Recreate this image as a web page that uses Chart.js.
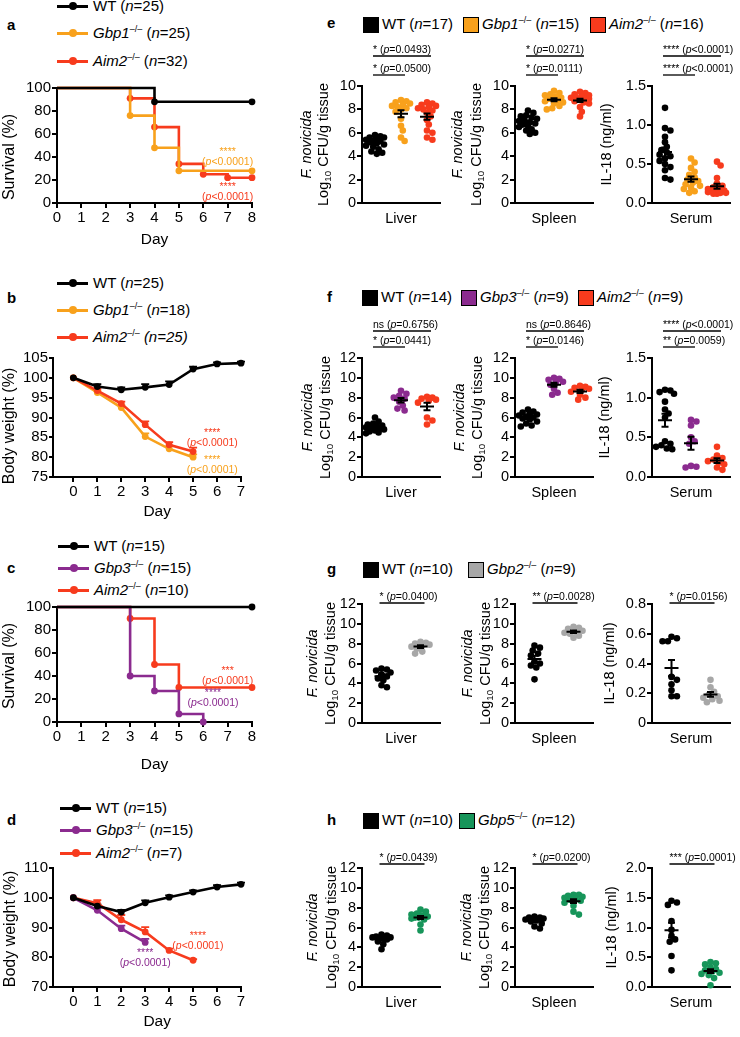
<!DOCTYPE html>
<html>
<head>
<meta charset="utf-8">
<script src="https://cdn.jsdelivr.net/npm/chart.js@4.4.1/dist/chart.umd.min.js"></script>
<style>
  html, body { margin: 0; padding: 0; background: #fff; }
  body { position: relative; width: 740px; height: 1037px; overflow: hidden;
         font-family: "Liberation Sans", Arial, sans-serif; color: #000; }
  canvas { position: absolute; display: block; }
  .panel { position: absolute; font-weight: bold; font-size: 15px; line-height: 15px; }
  .leg { position: absolute; font-size: 15px; line-height: 18px; white-space: nowrap; }
  .leg sup { font-size: 9px; vertical-align: 6px; line-height: 0; }
  .swatch { position: absolute; height: 3px; width: 31px; }
  .dot { position: absolute; width: 8px; height: 8px; border-radius: 50%; }
  .sq { position: absolute; width: 14px; height: 14px; border: 1px solid #000; }
</style>
</head>
<body>
<script>
const FONT = '"Liberation Sans", Arial, sans-serif';
Chart.defaults.font.family = FONT;
Chart.defaults.color = '#000';

const COL = { WT: '#000000', Gbp1: '#F8A11C', Aim2: '#F73B1D', Gbp3: '#8B2B8F', Gbp2: '#A7A7A7', Gbp5: '#17955A' };

// ---------- a: survival, WT / Gbp1 / Aim2
const survTicks = [0, 20, 40, 60, 80, 100];
const survDayTicks = [0, 1, 2, 3, 4, 5, 6, 7, 8];
const aWTDays = [0, 4, 8];                 const aWTSurv = [100, 88, 88];
const aGbp1Days = [0, 3, 4, 5, 8];         const aGbp1Surv = [100, 76, 48, 28, 28];
const aAim2Days = [0, 3, 4, 5, 6, 7, 8];   const aAim2Surv = [100, 91, 66, 34, 25, 22, 22];

// ---------- b: body weight, WT / Gbp1 / Aim2
const weightDays = [0, 1, 2, 3, 4, 5, 6, 7];
const koDays = [0, 1, 2, 3, 4, 5];
const bWeightTicks = [75, 80, 85, 90, 95, 100, 105];
const bWT = [100, 97.8, 97.0, 97.6, 98.3, 102.2, 103.5, 103.7];
const bWTsem = [0, 0.6, 0.6, 0.8, 0.8, 0.6, 0.4, 0.4];
const bGbp1 = [100, 96.3, 92.5, 85.2, 82.1, 80.0];
const bGbp1sem = [0, 0.4, 0.6, 0.8, 0.6, 0.7];
const bAim2 = [100, 96.8, 93.5, 88.2, 83.1, 81.4];
const bAim2sem = [0, 0.4, 0.5, 0.8, 0.7, 1.0];

// ---------- c: survival, WT / Gbp3 / Aim2
const cWTDays = [0, 8];                    const cWTSurv = [100, 100];
const cGbp3Days = [0, 3, 4, 5, 6];         const cGbp3Surv = [100, 40, 27, 7, 0];
const cAim2Days = [0, 3, 4, 5, 8];         const cAim2Surv = [100, 90, 50, 30, 30];

// ---------- d: body weight, WT / Gbp3 / Aim2
const dWeightTicks = [70, 80, 90, 100, 110];
const gbp3Days = [0, 1, 2, 3];
const dWT = [100, 97.2, 95.2, 98.3, 100.2, 101.9, 103.6, 104.5];
const dWTsem = [0, 0.6, 0.7, 0.8, 0.6, 0.6, 0.6, 0.6];
const dGbp3 = [100, 95.8, 89.6, 85.0];
const dGbp3sem = [0, 0.6, 1.0, 1.2];
const dAim2 = [100, 98.2, 92.6, 88.5, 82.3, 79.0];
const dAim2sem = [0, 1.0, 1.6, 1.6, 0.6, 0.4];

// p-value notes on the left panels
const aNotes = [
  { stars: '****', p: '<0.0001', color: COL.Gbp1, x: 7.0, y: 44 },
  { stars: '****', p: '<0.0001', color: COL.Aim2, x: 7.0, y: 14 }
];
const bNotes = [
  { stars: '****', p: '<0.0001', color: COL.Aim2, x: 5.8, y: 86 },
  { stars: '****', p: '<0.0001', color: COL.Gbp1, x: 5.8, y: 79.3 }
];
const cNotes = [
  { stars: '***', p: '<0.0001', color: COL.Aim2, x: 7.0, y: 44 },
  { stars: '****', p: '<0.0001', color: COL.Gbp3, x: 6.4, y: 25.5 }
];
const dNotes = [
  { stars: '****', p: '<0.0001', color: COL.Gbp3, x: 3.0, y: 81.5 },
  { stars: '****', p: '<0.0001', color: COL.Aim2, x: 5.2, y: 87.2 }
];

// ---------- e: WT / Gbp1 / Aim2  (log10 CFU, IL-18 ng/ml)
const eLiverWT   = [5.8, 5.7, 5.6, 5.6, 5.5, 5.4, 5.3, 5.3, 5.2, 5.1, 5.0, 4.9, 4.8, 4.6, 4.4, 4.3, 4.2];
const eLiverGbp1 = [8.8, 8.7, 8.6, 8.5, 8.4, 8.3, 8.2, 8.1, 8.0, 7.8, 7.2, 6.6, 6.2, 5.6, 5.3];
const eLiverAim2 = [8.6, 8.5, 8.4, 8.3, 8.2, 8.1, 8.0, 7.9, 7.7, 7.4, 7.1, 6.7, 6.2, 6.0, 5.6, 5.4];
const eSpleenWT   = [7.9, 7.7, 7.5, 7.4, 7.3, 7.2, 7.1, 7.0, 6.9, 6.8, 6.7, 6.6, 6.5, 6.3, 6.2, 6.0, 5.9];
const eSpleenGbp1 = [9.6, 9.4, 9.3, 9.2, 9.1, 9.0, 8.9, 8.9, 8.8, 8.7, 8.6, 8.5, 8.3, 8.1, 8.0];
const eSpleenAim2 = [9.5, 9.4, 9.3, 9.2, 9.1, 9.0, 9.0, 8.9, 8.9, 8.8, 8.7, 8.6, 8.5, 8.2, 7.8, 7.4];
const eSerumWT   = [1.22, 0.96, 0.93, 0.85, 0.78, 0.72, 0.68, 0.65, 0.62, 0.60, 0.57, 0.54, 0.50, 0.46, 0.42, 0.32, 0.30];
const eSerumGbp1 = [0.57, 0.52, 0.45, 0.40, 0.36, 0.33, 0.30, 0.28, 0.26, 0.24, 0.22, 0.20, 0.18, 0.15, 0.13];
const eSerumAim2 = [0.53, 0.48, 0.32, 0.25, 0.22, 0.20, 0.18, 0.17, 0.16, 0.15, 0.14, 0.14, 0.13, 0.13, 0.12, 0.12];
const eLiverSig  = [['*', '=0.0493'], ['*', '=0.0500']];
const eSpleenSig = [['*', '=0.0271'], ['*', '=0.0111']];
const eSerumSig  = [['****', '<0.0001'], ['****', '<0.0001']];

// ---------- f: WT / Gbp3 / Aim2
const fLiverWT   = [6.0, 5.6, 5.4, 5.3, 5.2, 5.1, 5.0, 5.0, 4.9, 4.8, 4.7, 4.6, 4.5, 4.4];
const fLiverGbp3 = [8.7, 8.4, 8.2, 8.0, 7.9, 7.6, 7.2, 6.9, 6.7];
const fLiverAim2 = [8.1, 8.0, 7.9, 7.8, 7.7, 7.5, 6.0, 5.7, 5.3];
const fSpleenWT   = [6.8, 6.6, 6.5, 6.4, 6.3, 6.2, 6.1, 6.0, 5.9, 5.8, 5.6, 5.4, 5.2, 5.1];
const fSpleenGbp3 = [10.0, 9.9, 9.8, 9.6, 9.5, 9.3, 8.9, 8.5, 8.3];
const fSpleenAim2 = [9.2, 9.1, 9.0, 8.9, 8.8, 8.6, 8.3, 8.0, 7.8];
const fSerumWT   = [1.10, 1.09, 1.07, 1.05, 0.95, 0.85, 0.80, 0.75, 0.45, 0.42, 0.40, 0.38, 0.36, 0.35];
const fSerumGbp3 = [0.72, 0.70, 0.65, 0.50, 0.45, 0.42, 0.14, 0.13, 0.12];
const fSerumAim2 = [0.38, 0.27, 0.24, 0.22, 0.20, 0.18, 0.16, 0.12, 0.09];
const fLiverSig  = [['ns', '=0.6756'], ['*', '=0.0441']];
const fSpleenSig = [['ns', '=0.8646'], ['*', '=0.0146']];
const fSerumSig  = [['****', '<0.0001'], ['**', '=0.0059']];

// ---------- g: WT / Gbp2
const gLiverWT   = [5.5, 5.4, 5.3, 5.1, 4.9, 4.7, 4.5, 4.3, 3.8, 3.6];
const gLiverGbp2 = [8.2, 8.1, 8.0, 7.9, 7.8, 7.7, 7.5, 7.2, 7.0];
const gSpleenWT   = [7.8, 7.6, 7.3, 7.0, 6.8, 6.2, 6.0, 5.8, 5.6, 4.4];
const gSpleenGbp2 = [9.7, 9.6, 9.5, 9.3, 9.2, 9.1, 9.0, 8.8, 8.6];
const gSerumWT   = [0.58, 0.57, 0.55, 0.55, 0.31, 0.29, 0.26, 0.22, 0.18, 0.18];
const gSerumGbp2 = [0.29, 0.24, 0.21, 0.19, 0.18, 0.17, 0.16, 0.15, 0.14];
const gLiverSig  = [['*', '=0.0400']];
const gSpleenSig = [['**', '=0.0028']];
const gSerumSig  = [['*', '=0.0156']];

// ---------- h: WT / Gbp5
const hLiverWT   = [5.3, 5.2, 5.1, 5.0, 5.0, 4.9, 4.8, 4.6, 4.3, 3.8];
const hLiverGbp5 = [7.8, 7.6, 7.4, 7.3, 7.2, 7.1, 7.0, 7.0, 6.9, 6.8, 6.3, 5.7];
const hSpleenWT   = [7.1, 7.0, 7.0, 6.9, 6.8, 6.7, 6.6, 6.4, 6.1, 5.9];
const hSpleenGbp5 = [9.3, 9.3, 9.2, 9.1, 9.0, 8.9, 8.8, 8.7, 8.5, 8.2, 7.6, 7.3];
const hSerumWT   = [1.45, 1.42, 1.38, 1.11, 0.96, 0.86, 0.80, 0.76, 0.52, 0.28];
const hSerumGbp5 = [0.42, 0.40, 0.38, 0.33, 0.30, 0.28, 0.26, 0.24, 0.22, 0.20, 0.15, 0.03];
const hLiverSig  = [['*', '=0.0439']];
const hSpleenSig = [['*', '=0.0200']];
const hSerumSig  = [['***', '=0.0001']];

const cfuTicks10 = [0, 2, 4, 6, 8, 10];
const cfuTicks12 = [0, 2, 4, 6, 8, 10, 12];
const il18Ticks15 = [0, 0.5, 1.0, 1.5];
const il18Ticks08 = [0, 0.2, 0.4, 0.6, 0.8];
const il18Ticks20 = [0, 0.5, 1.0, 1.5, 2.0];

// ---------- text helpers
const N = t => ({ t, s: 'n' });
const I = t => ({ t, s: 'i' });
const SUB = t => ({ t, s: 'sub' });

function runFont(r, size) {
  const sz = r.s === 'sub' ? size * 0.68 : size;
  return (r.s === 'i' ? 'italic ' : '') + sz + 'px ' + FONT;
}
function drawRuns(ctx, runs, x, y, size, align) {
  let w = 0;
  runs.forEach(r => { ctx.font = runFont(r, size); w += ctx.measureText(r.t).width; });
  let cx = align === 'center' ? x - w / 2 : (align === 'right' ? x - w : x);
  ctx.textAlign = 'left';
  runs.forEach(r => {
    ctx.font = runFont(r, size);
    ctx.fillText(r.t, cx, r.s === 'sub' ? y + size * 0.28 : y);
    cx += ctx.measureText(r.t).width;
  });
}

function el(cls, x, y, html) {
  const d = document.createElement('div');
  d.className = cls;
  d.style.left = x + 'px';
  d.style.top = y + 'px';
  if (html) d.innerHTML = html;
  document.body.appendChild(d);
  return d;
}
const geno = (name, n, italN) => (name === 'WT' ? 'WT' : '<i>' + name + '</i><sup>–/–</sup>') +
  (italN ? ' <i>(n=' + n + ')</i>' : ' (<i>n</i>=' + n + ')');

function lineLegend(x, rows) {
  rows.forEach(r => {
    el('swatch', x, r.y - 1.5).style.background = r.color;
    el('dot', x + 11.5, r.y - 4).style.background = r.color;
    el('leg', x + 36, r.y - 9, geno(r.name, r.n, r.italN));
  });
}
function squareLegend(y, items) {
  items.forEach(it => {
    el('sq', it.x, y - 7.5).style.background = it.color;
    el('leg', it.x + 19, y - 9, geno(it.name, it.n));
  });
}

function makeCanvas(box) {
  const cv = document.createElement('canvas');
  cv.width = box.w; cv.height = box.h;
  cv.style.left = box.x + 'px'; cv.style.top = box.y + 'px';
  cv.style.width = box.w + 'px'; cv.style.height = box.h + 'px';
  document.body.appendChild(cv);
  return cv;
}

// ---------- left panels: survival / weight lines
function addLineChart(p) {
  const { box, plot } = p;
  const extras = {
    id: 'lineExtras',
    beforeDatasetsDraw(chart) {
      const { ctx, scales: { x, y } } = chart;
      p.series.forEach(s => {
        if (!s.sem) return;
        ctx.save();
        ctx.strokeStyle = s.color; ctx.lineWidth = 1.8;
        s.x.forEach((d, i) => {
          const e = s.sem[i];
          if (!e) return;
          const px = x.getPixelForValue(d), p0 = y.getPixelForValue(s.y[i]), p1 = y.getPixelForValue(s.y[i] + e);
          ctx.beginPath();
          ctx.moveTo(px, p0); ctx.lineTo(px, p1);
          ctx.moveTo(px - 4, p1); ctx.lineTo(px + 4, p1);
          ctx.stroke();
        });
        ctx.restore();
      });
    },
    afterDraw(chart) {
      const { ctx, scales: { x, y } } = chart;
      ctx.save();
      ctx.textBaseline = 'middle';
      p.notes.forEach(n => {
        const px = x.getPixelForValue(n.x), py = y.getPixelForValue(n.y);
        ctx.fillStyle = n.color;
        drawRuns(ctx, [N(n.stars)], px, py, 10.5, 'center');
        drawRuns(ctx, [N('('), I('p'), N(n.p + ')')], px, py + 10, 10.5, 'center');
      });
      ctx.fillStyle = '#000';
      const dx = (x.getPixelForValue(p.xTicks[0]) + x.getPixelForValue(p.xTicks[p.xTicks.length - 1])) / 2;
      drawRuns(ctx, [N('Day')], dx, p.dayY - box.y, 15.5, 'center');
      ctx.translate(p.titleX - box.x, p.titleY - box.y);
      ctx.rotate(-Math.PI / 2);
      drawRuns(ctx, [N(p.yTitle)], 0, 0, 16, 'center');
      ctx.restore();
    }
  };
  return new Chart(makeCanvas(box), {
    type: 'line',
    data: {
      datasets: p.series.map(s => ({
        data: s.x.map((d, i) => ({ x: d, y: s.y[i] })),
        borderColor: s.color, backgroundColor: s.color,
        pointBackgroundColor: s.color, pointBorderWidth: 0,
        borderWidth: 2.6, fill: false, tension: 0, clip: false,
        pointRadius: s.x.map((d, i) => (p.stepped && i === 0) ? 0 : 3.4),
        stepped: p.stepped ? 'before' : false
      }))
    },
    options: {
      responsive: false, animation: false, events: [],
      layout: { autoPadding: false, padding: { left: 0, bottom: 0, top: plot.t - box.y, right: box.x + box.w - plot.r } },
      plugins: { legend: { display: false }, tooltip: { enabled: false } },
      scales: {
        x: {
          type: 'linear', min: p.xMin, max: p.xMax,
          afterBuildTicks: s => { s.ticks = p.xTicks.map(v => ({ value: v })); },
          afterFit: s => { s.height = box.y + box.h - plot.b; },
          grid: { display: true, drawOnChartArea: false, drawTicks: true, tickLength: 5, color: '#000', lineWidth: 2 },
          border: { display: true, color: '#000', width: 2 },
          ticks: { font: { size: 15 }, padding: 1, maxRotation: 0, autoSkip: false }
        },
        y: {
          min: p.yMin, max: p.yMax,
          afterBuildTicks: s => { s.ticks = p.yTicks.map(v => ({ value: v })); },
          afterFit: s => { s.width = plot.l - box.x; },
          grid: { display: true, drawOnChartArea: false, drawTicks: true, tickLength: p.yTickLen, color: '#000', lineWidth: 2 },
          border: { display: true, color: '#000', width: 2 },
          ticks: { font: { size: 15 }, padding: 1, autoSkip: false }
        }
      }
    },
    plugins: [extras]
  });
}

// ---------- right panels: dot plots with mean ± SEM
// compact beeswarm: dots may overlap a little, spread kept within ±maxOff px
function swarm(vals, pxY, pxX) {
  const placed = [];
  const minD = 5, step = 1.8, maxOff = 10;
  return vals.map(v => {
    const y = v * pxY;
    let best = 0, bestD = -1;
    for (let i = 0; ; i++) {
      const o = (i % 2 ? 1 : -1) * Math.ceil(i / 2) * step;
      if (Math.abs(o) > maxOff) break;
      const d = placed.reduce((m, q) => Math.min(m, Math.hypot(q.x - o, q.y - y)), Infinity);
      if (d >= minD) { best = o; bestD = d; break; }
      if (d > bestD) { bestD = d; best = o; }
    }
    placed.push({ x: best, y });
    return best / pxX;
  });
}

function addDotPlot(col, row, groups, colors, yTicks, yFmt, xTitle, yTitle, titleX, sig) {
  const plot = { l: col.l, r: col.r, t: row.t, b: row.b };
  const box = { x: plot.l - 66, y: plot.t - 50 };
  box.w = plot.r + 6 - box.x;
  box.h = plot.b + 28 - box.y;
  const yMax = yTicks[yTicks.length - 1];
  const pxY = (plot.b - plot.t) / yMax, pxX = (plot.r - plot.l) / groups.length;
  const last = groups.length - 1;

  const extras = {
    id: 'dotExtras',
    afterDatasetsDraw(chart) {
      const { ctx, scales: { x, y } } = chart;
      ctx.save();
      ctx.strokeStyle = '#000'; ctx.lineWidth = 2;
      groups.forEach((v, i) => {
        const n = v.length;
        const m = v.reduce((a, b) => a + b, 0) / n;
        const sd = Math.sqrt(v.reduce((a, b) => a + (b - m) ** 2, 0) / (n - 1));
        const se = sd / Math.sqrt(n);
        const cx = x.getPixelForValue(i), ym = y.getPixelForValue(m);
        const yHi = y.getPixelForValue(m + se), yLo = y.getPixelForValue(m - se);
        ctx.beginPath();
        ctx.moveTo(cx - 7, ym); ctx.lineTo(cx + 7, ym);
        ctx.moveTo(cx, yLo); ctx.lineTo(cx, yHi);
        ctx.moveTo(cx - 3.5, yLo); ctx.lineTo(cx + 3.5, yLo);
        ctx.moveTo(cx - 3.5, yHi); ctx.lineTo(cx + 3.5, yHi);
        ctx.stroke();
      });
      ctx.restore();
    },
    afterDraw(chart) {
      const { ctx, chartArea: ca, scales: { x } } = chart;
      ctx.save();
      ctx.fillStyle = '#000'; ctx.strokeStyle = '#000';
      sig.forEach((s, k) => {
        const to = k === 0 ? last : 1;
        const yl = ca.top - row.sigH[k];
        const x0 = x.getPixelForValue(0) - 2, x1 = x.getPixelForValue(to) + 4;
        ctx.lineWidth = 1.3;
        ctx.beginPath(); ctx.moveTo(x0, yl); ctx.lineTo(x1, yl); ctx.stroke();
        ctx.textBaseline = 'alphabetic';
        drawRuns(ctx, [N(s[0] + ' ('), I('p'), N(s[1] + ')')], x0, yl - 3, 10.5, 'left');
      });
      ctx.textBaseline = 'middle';
      const cy = (ca.top + ca.bottom) / 2;
      yTitle.forEach((runs, k) => {
        ctx.save();
        ctx.translate(ca.left + titleX[k], cy);
        ctx.rotate(-Math.PI / 2);
        drawRuns(ctx, runs, 0, 0, 14.5, 'center');
        ctx.restore();
      });
      ctx.restore();
    }
  };

  return new Chart(makeCanvas(box), {
    type: 'scatter',
    data: {
      datasets: groups.map((vals, i) => {
        const offs = swarm(vals, pxY, pxX);
        return {
          data: vals.map((v, k) => ({ x: i + offs[k], y: v })),
          backgroundColor: colors[i], borderColor: colors[i],
          pointRadius: 3.3, pointBorderWidth: 0, clip: false
        };
      })
    },
    options: {
      responsive: false, animation: false, events: [],
      layout: { autoPadding: false, padding: { left: 0, bottom: 0, top: plot.t - box.y, right: box.x + box.w - plot.r } },
      plugins: { legend: { display: false }, tooltip: { enabled: false } },
      scales: {
        x: {
          type: 'linear', min: -0.5, max: groups.length - 0.5,
          afterFit: s => { s.height = box.y + box.h - plot.b; },
          grid: { display: false },
          border: { display: true, color: '#000', width: 2 },
          ticks: { display: false },
          title: { display: true, text: xTitle, font: { size: 14.5 },
                   padding: { top: 0, bottom: (box.y + box.h) - (plot.b + 16) - 14.5 * 0.6 } }
        },
        y: {
          min: 0, max: yMax,
          afterBuildTicks: s => { s.ticks = yTicks.map(v => ({ value: v })); },
          afterFit: s => { s.width = plot.l - box.x; },
          grid: { display: true, drawOnChartArea: false, drawTicks: true, tickLength: 5, color: '#000', lineWidth: 2 },
          border: { display: true, color: '#000', width: 2 },
          ticks: { font: { size: 14.5 }, padding: 1, autoSkip: false, callback: v => yFmt(v) }
        }
      }
    },
    plugins: [extras]
  });
}

// ---------- panel letters
[['a', 7, 17], ['b', 7, 290], ['c', 7, 560], ['d', 7, 812],
 ['e', 327, 15], ['f', 327, 289], ['g', 327, 561], ['h', 327, 812]]
  .forEach(([t, x, y]) => el('panel', x, y, t));

// ---------- left legends
lineLegend(57, [
  { name: 'WT', n: 25, color: COL.WT, y: 6 },
  { name: 'Gbp1', n: 25, color: COL.Gbp1, y: 33 },
  { name: 'Aim2', n: 32, color: COL.Aim2, y: 61 }
]);
lineLegend(57, [
  { name: 'WT', n: 25, color: COL.WT, y: 283 },
  { name: 'Gbp1', n: 18, color: COL.Gbp1, y: 310 },
  { name: 'Aim2', n: 25, color: COL.Aim2, y: 337, italN: true }
]);
lineLegend(58, [
  { name: 'WT', n: 15, color: COL.WT, y: 546 },
  { name: 'Gbp3', n: 15, color: COL.Gbp3, y: 568 },
  { name: 'Aim2', n: 10, color: COL.Aim2, y: 590 }
]);
lineLegend(60, [
  { name: 'WT', n: 15, color: COL.WT, y: 808 },
  { name: 'Gbp3', n: 15, color: COL.Gbp3, y: 830 },
  { name: 'Aim2', n: 7, color: COL.Aim2, y: 853 }
]);

// ---------- right legends
squareLegend(24, [
  { name: 'WT', n: 17, color: COL.WT, x: 363 },
  { name: 'Gbp1', n: 15, color: COL.Gbp1, x: 463 },
  { name: 'Aim2', n: 16, color: COL.Aim2, x: 590 }
]);
squareLegend(297, [
  { name: 'WT', n: 14, color: COL.WT, x: 362 },
  { name: 'Gbp3', n: 9, color: COL.Gbp3, x: 461 },
  { name: 'Aim2', n: 9, color: COL.Aim2, x: 578 }
]);
squareLegend(569, [
  { name: 'WT', n: 10, color: COL.WT, x: 363 },
  { name: 'Gbp2', n: 9, color: COL.Gbp2, x: 468 }
]);
squareLegend(820, [
  { name: 'WT', n: 10, color: COL.WT, x: 363 },
  { name: 'Gbp5', n: 12, color: COL.Gbp5, x: 459 }
]);

// ---------- left charts
addLineChart({
  box: { x: 0, y: 78, w: 262, h: 172 }, plot: { l: 57, r: 252, t: 87, b: 203 },
  dayY: 240, titleX: 10, titleY: 157, yTitle: 'Survival (%)', yTickLen: 5,
  xMin: 0, xMax: 8, xTicks: survDayTicks, yMin: 0, yMax: 100, yTicks: survTicks, stepped: true,
  series: [
    { x: aWTDays, y: aWTSurv, color: COL.WT },
    { x: aGbp1Days, y: aGbp1Surv, color: COL.Gbp1 },
    { x: aAim2Days, y: aAim2Surv, color: COL.Aim2 }
  ],
  notes: aNotes
});
addLineChart({
  box: { x: 0, y: 348, w: 262, h: 175 }, plot: { l: 53, r: 241, t: 358, b: 477 },
  dayY: 512, titleX: 10, titleY: 426, yTitle: 'Body weight (%)', yTickLen: 4,
  xMin: -0.85, xMax: 7, xTicks: weightDays, yMin: 75, yMax: 105, yTicks: bWeightTicks, stepped: false,
  series: [
    { x: weightDays, y: bWT, sem: bWTsem, color: COL.WT },
    { x: koDays, y: bAim2, sem: bAim2sem, color: COL.Aim2 },
    { x: koDays, y: bGbp1, sem: bGbp1sem, color: COL.Gbp1 }
  ],
  notes: bNotes
});
addLineChart({
  box: { x: 0, y: 597, w: 262, h: 180 }, plot: { l: 57, r: 252, t: 606, b: 722 },
  dayY: 765, titleX: 10, titleY: 666, yTitle: 'Survival (%)', yTickLen: 5,
  xMin: 0, xMax: 8, xTicks: survDayTicks, yMin: 0, yMax: 100, yTicks: survTicks, stepped: true,
  series: [
    { x: cWTDays, y: cWTSurv, color: COL.WT },
    { x: cGbp3Days, y: cGbp3Surv, color: COL.Gbp3 },
    { x: cAim2Days, y: cAim2Surv, color: COL.Aim2 }
  ],
  notes: cNotes
});
addLineChart({
  box: { x: 0, y: 858, w: 262, h: 176 }, plot: { l: 53, r: 241, t: 868, b: 987 },
  dayY: 1022, titleX: 11, titleY: 929, yTitle: 'Body weight (%)', yTickLen: 4,
  xMin: -0.85, xMax: 7, xTicks: weightDays, yMin: 70, yMax: 110, yTicks: dWeightTicks, stepped: false,
  series: [
    { x: weightDays, y: dWT, sem: dWTsem, color: COL.WT },
    { x: gbp3Days, y: dGbp3, sem: dGbp3sem, color: COL.Gbp3 },
    { x: koDays, y: dAim2, sem: dAim2sem, color: COL.Aim2 }
  ],
  notes: dNotes
});

// ---------- right charts
const LIVER = { l: 362, r: 440 }, SPLEEN = { l: 515, r: 593 }, SERUM = { l: 652, r: 730 };
const ROW_E = { t: 86, b: 203, sigH: [30, 11] };
const ROW_F = { t: 358, b: 477, sigH: [27, 11] };
const ROW_G = { t: 604, b: 723, sigH: [1] };
const ROW_H = { t: 868, b: 987, sigH: [4] };

const cfuTitle = [[I('F. novicida')], [N('Log'), SUB('10'), N(' CFU/g tissue')]];
const ilTitle = [[N('IL-18 (ng/ml)')]];
const fmtInt = v => String(v);
const fmt1 = v => v.toFixed(1);
const fmtG = v => (v === 0 ? '0' : v.toFixed(1));

const cE = [COL.WT, COL.Gbp1, COL.Aim2], cF = [COL.WT, COL.Gbp3, COL.Aim2];
const cG = [COL.WT, COL.Gbp2], cH = [COL.WT, COL.Gbp5];

addDotPlot(LIVER, ROW_E, [eLiverWT, eLiverGbp1, eLiverAim2], cE, cfuTicks10, fmtInt, 'Liver', cfuTitle, [-55, -38], eLiverSig);
addDotPlot(SPLEEN, ROW_E, [eSpleenWT, eSpleenGbp1, eSpleenAim2], cE, cfuTicks10, fmtInt, 'Spleen', cfuTitle, [-57, -38], eSpleenSig);
addDotPlot(SERUM, ROW_E, [eSerumWT, eSerumGbp1, eSerumAim2], cE, il18Ticks15, fmt1, 'Serum', ilTitle, [-45], eSerumSig);

addDotPlot(LIVER, ROW_F, [fLiverWT, fLiverGbp3, fLiverAim2], cF, cfuTicks12, fmtInt, 'Liver', cfuTitle, [-54, -36], fLiverSig);
addDotPlot(SPLEEN, ROW_F, [fSpleenWT, fSpleenGbp3, fSpleenAim2], cF, cfuTicks12, fmtInt, 'Spleen', cfuTitle, [-55, -37], fSpleenSig);
addDotPlot(SERUM, ROW_F, [fSerumWT, fSerumGbp3, fSerumAim2], cF, il18Ticks15, fmt1, 'Serum', ilTitle, [-47], fSerumSig);

addDotPlot(LIVER, ROW_G, [gLiverWT, gLiverGbp2], cG, cfuTicks12, fmtInt, 'Liver', cfuTitle, [-49, -31], gLiverSig);
addDotPlot(SPLEEN, ROW_G, [gSpleenWT, gSpleenGbp2], cG, cfuTicks12, fmtInt, 'Spleen', cfuTitle, [-47, -29], gSpleenSig);
addDotPlot(SERUM, ROW_G, [gSerumWT, gSerumGbp2], cG, il18Ticks08, fmtG, 'Serum', ilTitle, [-42], gSerumSig);

addDotPlot(LIVER, ROW_H, [hLiverWT, hLiverGbp5], cH, cfuTicks12, fmtInt, 'Liver', cfuTitle, [-49, -30], hLiverSig);
addDotPlot(SPLEEN, ROW_H, [hSpleenWT, hSpleenGbp5], cH, cfuTicks12, fmtInt, 'Spleen', cfuTitle, [-48, -30], hSpleenSig);
addDotPlot(SERUM, ROW_H, [hSerumWT, hSerumGbp5], cH, il18Ticks20, fmt1, 'Serum', ilTitle, [-40], hSerumSig);
</script>
</body>
</html>
